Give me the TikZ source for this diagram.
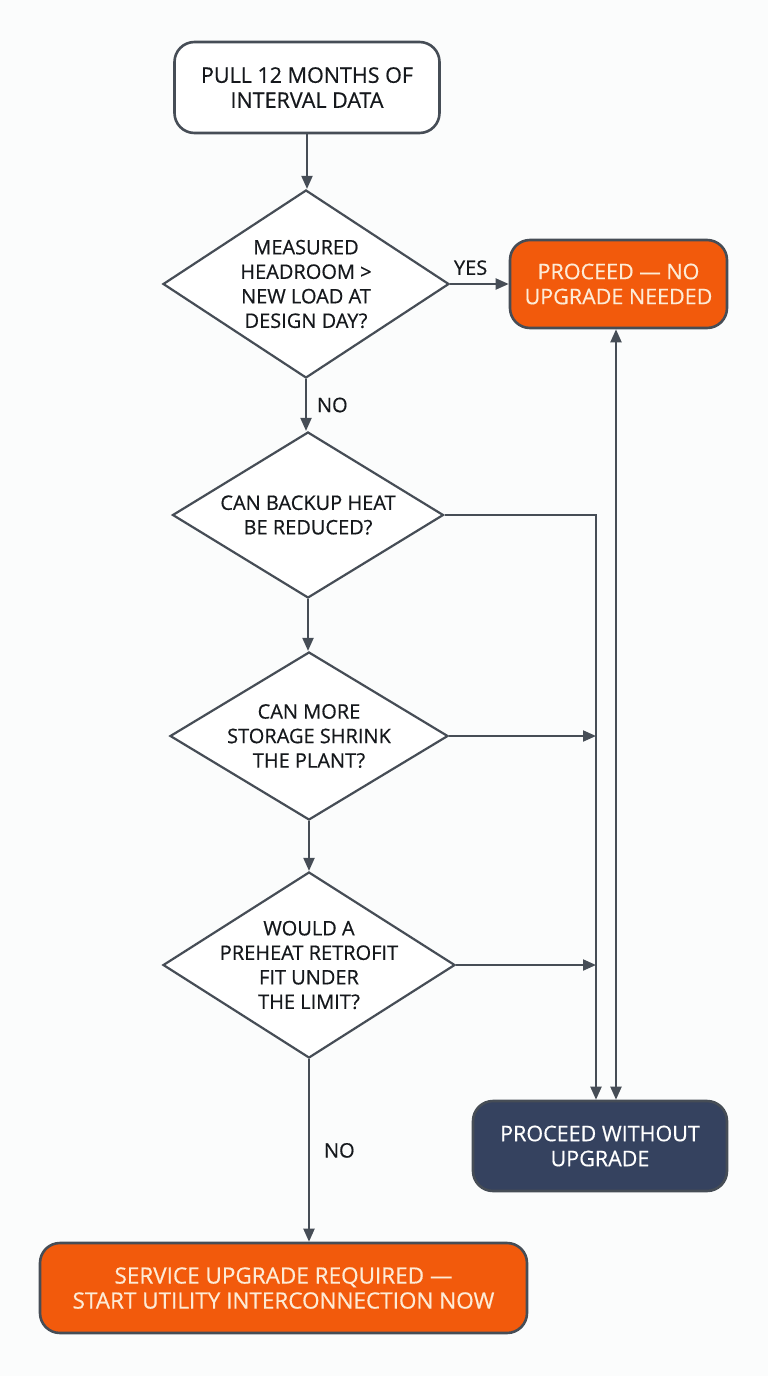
\documentclass[tikz,border=0pt]{standalone}
\usepackage{fontspec}
\setmainfont{Open Sans}[FakeBold=0.5]
\usetikzlibrary{shapes.geometric,arrows.meta}
\definecolor{bg}{HTML}{FBFCFC}
\definecolor{edge}{HTML}{464D56}
\definecolor{orng}{HTML}{F25A0C}
\definecolor{navy}{HTML}{35425F}
\definecolor{cream}{HTML}{FDEBD6}
\definecolor{ink}{HTML}{15181C}
\tikzset{
  box/.style={draw=edge, line width=2.6pt, rounded corners=20pt, align=center,
    font=\fontsize{21.5}{25}\selectfont, inner sep=0pt},
  plainbox/.style={box, fill=white, text=ink},
  hotbox/.style={box, fill=orng, text=cream},
  darkbox/.style={box, fill=navy, text=white},
  decision/.style={diamond, draw=edge, line width=2.2pt, fill=white, text=ink,
    align=center, inner sep=-8pt, aspect=1.52, font=\fontsize{20}{24.5}\selectfont},
  arr/.style={draw=edge, line width=2pt, -{Triangle[length=13pt,width=11pt]}},
  arrtwo/.style={draw=edge, line width=2pt, {Triangle[length=13pt,width=11pt]}-{Triangle[length=13pt,width=11pt]}},
  lbl/.style={text=ink, font=\fontsize{20}{24}\selectfont, inner sep=0pt}
}
\begin{document}
\begin{tikzpicture}[x=1pt,y=-1pt]
\fill[bg] (0,0) rectangle (768,1376);
\useasboundingbox (0,0) rectangle (768,1376);

\node[plainbox, minimum width=265pt, minimum height=91pt] (start) at (307,87.5) {PULL 12 MONTHS OF\\INTERVAL DATA};

\node[decision, minimum width=286pt, minimum height=188pt] (d1) at (306,284) {MEASURED\\HEADROOM >\\NEW LOAD AT\\DESIGN DAY?};

\node[hotbox, minimum width=217pt, minimum height=88pt] (ok) at (618.5,284) {PROCEED — NO\\UPGRADE NEEDED};

\node[decision, minimum width=271pt, minimum height=166pt] (d2) at (308,515) {CAN BACKUP HEAT\\BE REDUCED?};

\node[decision, minimum width=278pt, minimum height=168pt] (d3) at (309,736) {CAN MORE\\STORAGE SHRINK\\THE PLANT?};

\node[decision, minimum width=292pt, minimum height=186pt] (d4) at (309,965) {WOULD A\\PREHEAT RETROFIT\\FIT UNDER\\THE LIMIT?};

\node[darkbox, minimum width=254pt, minimum height=90pt] (pwo) at (600,1146) {PROCEED WITHOUT\\UPGRADE};

\node[hotbox, minimum width=487pt, minimum height=90pt, font=\fontsize{22.5}{25}\selectfont] (svc) at (283.5,1288) {SERVICE UPGRADE REQUIRED —\\START UTILITY INTERCONNECTION NOW};

\coordinate (busL) at (596,515);
\coordinate (busR) at (616,330);

\draw[arr] (start.south) -- (start.south |- d1.north);
\draw[arr] (d1.east) -- (ok.west) node[lbl, pos=0.35, above=8pt] (yes) {YES};
\draw[arr] (d1.south) -- (d1.south |- d2.north) node[lbl, midway, right=10pt] (no1) {NO};
\draw[arr] (d2.south) -- (d2.south |- d3.north);
\draw[arr] (d3.south) -- (d3.south |- d4.north);
\draw[arr] (d4.south) -- (d4.south |- svc.north) node[lbl, midway, right=14pt] (no2) {NO};

\draw[arr] (d2.east) -| (busL |- pwo.north);
\draw[arr] (d3.east) -- (d3.east -| busL);
\draw[arr] (d4.east) -- (d4.east -| busL);
\draw[arrtwo] (busR |- pwo.north) -- (busR |- ok.south);
\end{tikzpicture}
\end{document}
